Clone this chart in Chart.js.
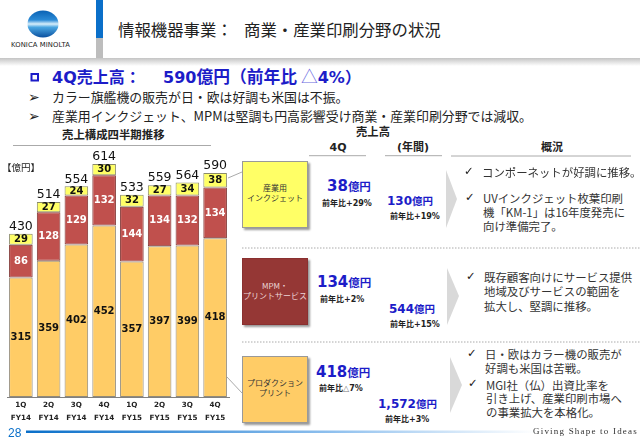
<!DOCTYPE html>
<html lang="ja">
<head>
<meta charset="UTF-8">
<title>情報機器事業： 商業・産業印刷分野の状況</title>
<script src="https://cdn.jsdelivr.net/npm/chart.js"></script>
<style>
  * { box-sizing: border-box; margin: 0; padding: 0; }
  html, body { width: 640px; height: 443px; overflow: hidden; background: #fff; }
  body { position: relative; font-family: "DejaVu Sans", "Noto Sans CJK JP", sans-serif; color: #222; }
  .t { position: absolute; white-space: nowrap; transform: translateY(-50%); line-height: 1.2; }
  .c { transform: translate(-50%, -50%); text-align: center; }
  .jp { font-family: "Noto Sans CJK JP", sans-serif; }
  .b { font-weight: bold; }
  .blue { color: #1c1cc8; font-weight: bold; }
  .blue small { font-family: "Noto Sans CJK JP", sans-serif; }
  .yoy { font-size: 8px; font-weight: bold; color: #222; }
  .note { font-size: 11.4px; font-family: "Noto Sans CJK JP", sans-serif; color: #333; }
  .chk { font-size: 11.5px; font-weight: bold; color: #222; }
  .box { position: absolute; left: 242px; width: 66px; height: 67px; box-shadow: 2px 2px 2px #999; border: 1px solid #999; }
  .lbl { font-size: 8px; font-family: "Noto Sans CJK JP", sans-serif; line-height: 10px; }
  #deco { position: absolute; left: 0; top: 0; }
  #chartWrap { position: absolute; left: 0; top: 140px; width: 240px; height: 290px; }
</style>
</head>
<body>
<svg id="deco" width="640" height="443">
  <defs>
    <linearGradient id="shadow" x1="0" y1="0" x2="0" y2="1"><stop offset="0" stop-color="#c4c4c4"/><stop offset="1" stop-color="#fff"/></linearGradient>
    <linearGradient id="foot" x1="0" y1="0" x2="1" y2="0"><stop offset="0" stop-color="#0a6fc9"/><stop offset="0.6" stop-color="#8fc0ee"/><stop offset="1" stop-color="#fff"/></linearGradient>
    <linearGradient id="globe" x1="0" y1="0" x2="0" y2="1">
      <stop offset="0" stop-color="#0a62b4"/><stop offset="0.35" stop-color="#2a8ad6"/><stop offset="0.5" stop-color="#d8eefa"/>
      <stop offset="0.62" stop-color="#4aa6e2"/><stop offset="1" stop-color="#0a4f9e"/>
    </linearGradient>
  </defs>
  <ellipse cx="43" cy="24" rx="15.5" ry="13.5" fill="url(#globe)"/>
  <rect x="96" y="0" width="7" height="38" fill="#0a6fc9"/>
  <rect x="96" y="38" width="7" height="20" fill="#bdbdbd"/>
  <rect x="0" y="58" width="640" height="8" fill="url(#shadow)"/>
  <rect x="31.5" y="74" width="6.5" height="6.5" fill="none" stroke="#1c1cc8" stroke-width="2"/>
  <line x1="13" y1="145.5" x2="211" y2="145.5" stroke="#aaa"/>
  <line x1="309" y1="155.7" x2="366" y2="155.7" stroke="#aaa"/>
  <line x1="385" y1="155.7" x2="442" y2="155.7" stroke="#aaa"/>
  <line x1="451" y1="156" x2="631" y2="156" stroke="#aaa"/>
  <line x1="242" y1="248" x2="640" y2="248" stroke="#aaa" stroke-dasharray="1.5 1.5"/>
  <line x1="242" y1="342" x2="640" y2="342" stroke="#aaa" stroke-dasharray="1.5 1.5"/>
  <line x1="228" y1="178" x2="242" y2="172" stroke="#aaa"/>
  <line x1="227" y1="377" x2="242" y2="393" stroke="#aaa"/>
  <polygon points="446,170 457,199 446,228" fill="#d9d9d9"/>
  <polygon points="447,268 459,296 447,325" fill="#d9d9d9"/>
  <polygon points="450,357 462,385 450,413" fill="#d9d9d9"/>
  <rect x="26" y="430.5" width="510" height="2.5" fill="url(#foot)"/>
</svg>

<div class="t" style="left:11px;top:44.5px;font-size:6.8px;letter-spacing:.1px;color:#222">KONICA MINOLTA</div>
<div class="t jp" style="left:118px;top:30px;font-size:16.4px;color:#222">情報機器事業：</div>
<div class="t jp" style="left:244px;top:30px;font-size:16.4px;color:#222">商業・産業印刷分野の状況</div>

<div class="t blue" style="left:52px;top:77px;font-size:16px">4Q<span class="jp">売上高：</span></div>
<div class="t blue" style="left:163px;top:77px;font-size:16px">590<span class="jp" style="font-size:16.8px">億円（前年比 <span style="font-weight:normal;color:#6a6ae0">△</span></span>4%<span class="jp">）</span></div>
<div class="t b" style="left:28px;top:97px;font-size:14px">➢</div>
<div class="t jp" style="left:52px;top:97px;font-size:12.9px">カラー旗艦機の販売が日・欧は好調も米国は不振。</div>
<div class="t b" style="left:28px;top:116px;font-size:14px">➢</div>
<div class="t jp" style="left:52px;top:116px;font-size:12.9px">産業用インクジェット、MPMは堅調も円高影響受け商業・産業印刷分野では減収。</div>

<div class="t jp b" style="left:62px;top:135px;font-size:11.4px">売上構成四半期推移</div>
<div class="t jp b c" style="left:373px;top:132px;font-size:11.3px">売上高</div>
<div class="t b c" style="left:338px;top:148px;font-size:11px">4Q</div>
<div class="t b c" style="left:413px;top:147px;font-size:11px">(<span class="jp">年間</span>)</div>
<div class="t jp b c" style="left:552px;top:147px;font-size:11px">概況</div>

<div id="chartWrap"><canvas id="chart" width="240" height="290"></canvas></div>
<div class="t jp" style="left:2px;top:168px;font-size:9.5px">【億円】</div>

<div class="box" style="top:161px;background:#ffff66"></div>
<div class="t lbl c" style="left:275px;top:193px;color:#333">産業用<br>インクジェット</div>
<div class="box" style="top:258px;background:#953735;border-color:#8a3030"></div>
<div class="t lbl c" style="left:275px;top:291px;color:#ecd5d5">MPM・<br>プリントサービス</div>
<div class="box" style="top:356px;background:#ffcc66"></div>
<div class="t lbl c" style="left:275px;top:388px;color:#333">プロダクション<br>プリント</div>

<div class="t blue" style="left:327px;top:186px;font-size:15px">38<small style="font-size:11.5px">億円</small></div>
<div class="t yoy" style="left:322px;top:203px"><span class="jp">前年比</span>+29%</div>
<div class="t blue" style="left:387px;top:201px;font-size:12px">130<small style="font-size:10.5px">億円</small></div>
<div class="t yoy" style="left:390px;top:216px"><span class="jp">前年比</span>+19%</div>

<div class="t blue" style="left:317px;top:282px;font-size:15px">134<small style="font-size:11.5px">億円</small></div>
<div class="t yoy" style="left:320px;top:299px"><span class="jp">前年比</span>+2%</div>
<div class="t blue" style="left:389px;top:309px;font-size:12px">544<small style="font-size:10.5px">億円</small></div>
<div class="t yoy" style="left:390px;top:324px"><span class="jp">前年比</span>+15%</div>

<div class="t blue" style="left:316px;top:372px;font-size:15px">418<small style="font-size:11.5px">億円</small></div>
<div class="t yoy" style="left:319px;top:388px"><span class="jp">前年比</span><span style="font-weight:normal;color:#777">△</span>7%</div>
<div class="t blue" style="left:378px;top:404px;font-size:12px">1,572<small style="font-size:10.5px">億円</small></div>
<div class="t yoy" style="left:385px;top:419px"><span class="jp">前年比</span>+3%</div>

<div class="t chk" style="left:464px;top:172px">✓</div>
<div class="t note" style="left:482px;top:172.5px">コンポーネットが好調に推移。</div>
<div class="t chk" style="left:465px;top:198px">✓</div>
<div class="t note" style="left:483px;top:199px">UVインクジェット枚葉印刷</div>
<div class="t note" style="left:483px;top:213px">機「KM-1」は16年度発売に</div>
<div class="t note" style="left:483px;top:227px">向け準備完了。</div>
<div class="t chk" style="left:466px;top:277px">✓</div>
<div class="t note" style="left:484px;top:278px">既存顧客向けにサービス提供</div>
<div class="t note" style="left:484px;top:292px">地域及びサービスの範囲を</div>
<div class="t note" style="left:484px;top:306.5px">拡大し、堅調に推移。</div>
<div class="t chk" style="left:467px;top:354px">✓</div>
<div class="t note" style="left:485px;top:355px">日・欧はカラー機の販売が</div>
<div class="t note" style="left:485px;top:368.5px">好調も米国は苦戦。</div>
<div class="t chk" style="left:468px;top:384px">✓</div>
<div class="t note" style="left:486px;top:385.5px">MGI社（仏）出資比率を</div>
<div class="t note" style="left:486px;top:399px">引き上げ、産業印刷市場へ</div>
<div class="t note" style="left:486px;top:413px">の事業拡大を本格化。</div>

<div class="t" style="left:8px;top:432.5px;font-family:'Liberation Sans',sans-serif;font-size:12px;color:#0a6fc9">28</div>
<div class="t" style="left:533px;top:431px;font-family:'Liberation Serif',serif;font-size:9px;letter-spacing:1.2px;color:#333">Giving Shape to Ideas</div>

<script>
  const quarters   = ['1Q', '2Q', '3Q', '4Q', '1Q', '2Q', '3Q', '4Q'];
  const years      = ['FY14', 'FY14', 'FY14', 'FY14', 'FY15', 'FY15', 'FY15', 'FY15'];
  const production = [315, 359, 402, 452, 357, 397, 399, 418];
  const mpm        = [86, 128, 129, 132, 144, 134, 132, 134];
  const inkjet     = [29, 27, 24, 30, 32, 27, 34, 38];
  const totals     = [430, 514, 554, 614, 533, 559, 564, 590];

  // 棒の中の数値と合計を描く
  const valueLabels = {
    id: 'valueLabels',
    afterDatasetsDraw(chart) {
      const ctx = chart.ctx;
      ctx.save();
      ctx.textAlign = 'center';
      ctx.textBaseline = 'middle';
      chart.data.datasets.forEach((ds, i) => {
        const meta = chart.getDatasetMeta(i);
        meta.data.forEach((bar, j) => {
          ctx.font = 'bold 10px "DejaVu Sans"';
          ctx.fillStyle = i === 1 ? '#fff' : '#111';
          ctx.fillText(ds.data[j], bar.x, (bar.y + bar.base) / 2);
        });
      });
      const top = chart.getDatasetMeta(2);
      ctx.font = '12.5px "DejaVu Sans"';
      ctx.fillStyle = '#111';
      top.data.forEach((bar, j) => ctx.fillText(totals[j], bar.x, bar.y - 7));
      ctx.restore();
    }
  };

  function barSet(label, data, fill, edge) {
    return { label, data, backgroundColor: fill, borderColor: edge, borderWidth: 1, borderSkipped: false, stack: 's' };
  }

  new Chart(document.getElementById('chart'), {
    type: 'bar',
    data: {
      labels: quarters.map((q, i) => [q, years[i]]),
      datasets: [
        barSet('プロダクションプリント', production, '#ffcc66', '#928a78'),
        barSet('MPM・プリントサービス', mpm, '#c0504d', '#7d2f2d'),
        barSet('産業用インクジェット', inkjet, '#ffff66', '#8a8a68')
      ]
    },
    options: {
      responsive: false,
      animation: false,
      devicePixelRatio: 1,
      layout: { padding: { left: 7, right: 11, top: 10.3, bottom: 0 } },
      plugins: { legend: { display: false }, tooltip: { enabled: false } },
      datasets: { bar: { barPercentage: 0.85, categoryPercentage: 1 } },
      scales: {
        x: {
          stacked: true,
          grid: { display: false, tickLength: 0 },
          border: { color: '#808080', width: 1 },
          ticks: { autoSkip: false, maxRotation: 0, padding: 1, color: '#222', font: { family: '"DejaVu Sans"', size: 7.2, weight: 'bold', lineHeight: 1.85 } },
          afterFit(scale) { scale.height = 33; }
        },
        y: { stacked: true, display: false, min: 0, max: 650 }
      }
    },
    plugins: [valueLabels]
  });
</script>
</body>
</html>
